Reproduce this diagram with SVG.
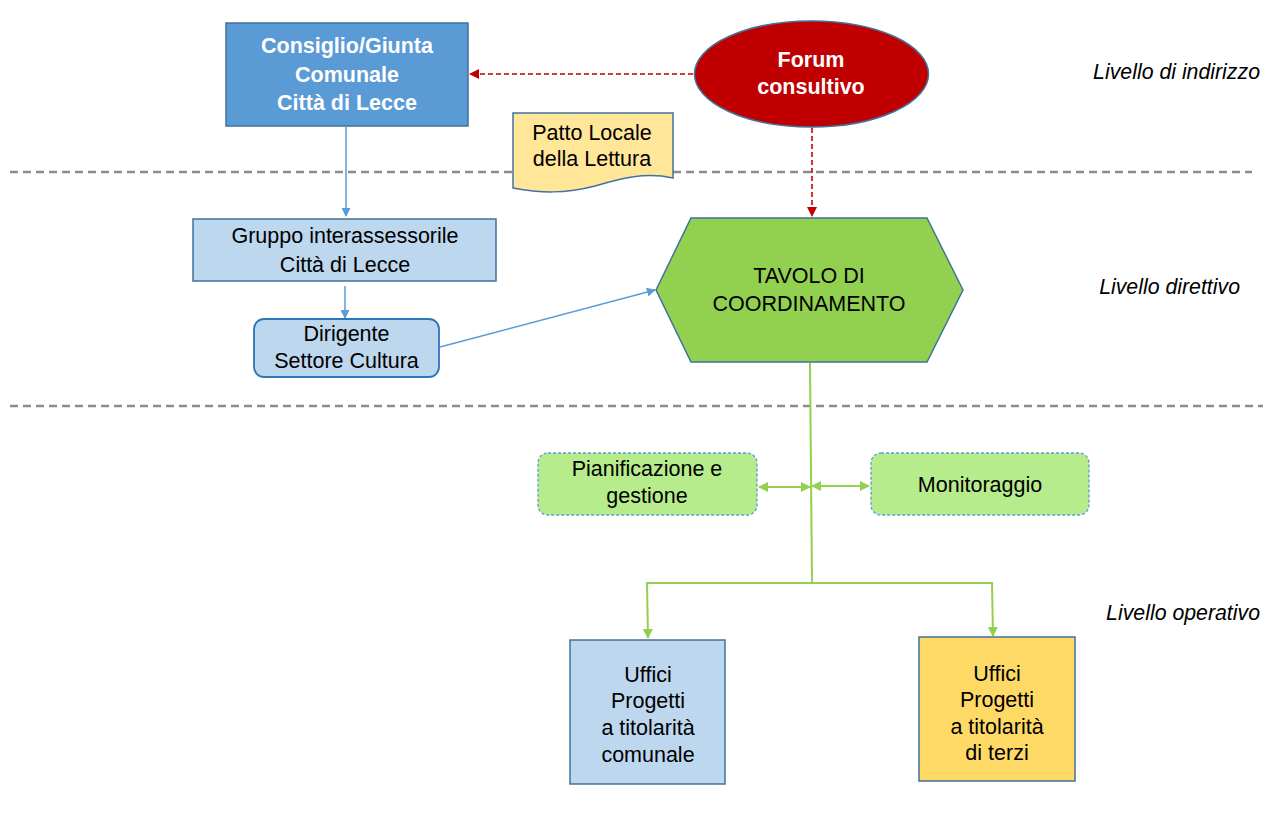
<svg xmlns="http://www.w3.org/2000/svg" width="1263" height="813" viewBox="0 0 1263 813">
<defs>
<style>
.t{font-family:"Liberation Sans",Arial,sans-serif;font-size:21.5px;fill:#000;text-anchor:middle}
.b{font-weight:bold;fill:#fff}
.lvl{font-family:"Liberation Sans",Arial,sans-serif;font-size:21.3px;font-style:italic;fill:#000;text-anchor:end}
.sep{stroke:#8c8c8c;stroke-width:2.5;stroke-dasharray:8 5;fill:none}
.red{stroke:#c00000;stroke-width:1.6;stroke-dasharray:5 3;fill:none}
.blue{stroke:#5b9bd5;stroke-width:1.5;fill:none}
.green{stroke:#92d050;stroke-width:2;fill:none}
</style>
<marker id="ar" viewBox="0 0 10 10" refX="9" refY="5" markerWidth="10" markerHeight="10" markerUnits="userSpaceOnUse" orient="auto"><path d="M0,0L10,5L0,10z" fill="#c00000"/></marker>
<marker id="ab" viewBox="0 0 10 10" refX="9" refY="5" markerWidth="9" markerHeight="9" markerUnits="userSpaceOnUse" orient="auto"><path d="M0,0L10,5L0,10z" fill="#5b9bd5"/></marker>
<marker id="ag" viewBox="0 0 10 10" refX="9" refY="5" markerWidth="10" markerHeight="10" markerUnits="userSpaceOnUse" orient="auto-start-reverse"><path d="M0,0L10,5L0,10z" fill="#92d050"/></marker>
</defs>
<rect width="1263" height="813" fill="#fff"/>
<line class="sep" x1="10" y1="172" x2="1252" y2="172"/>
<line class="sep" x1="10" y1="406" x2="1263" y2="406"/>
<g id="connectors">
<line class="red" x1="693" y1="74" x2="470" y2="74" marker-end="url(#ar)"/>
<line class="red" x1="812" y1="128" x2="812" y2="216" marker-end="url(#ar)"/>
<line class="blue" x1="346" y1="127" x2="346" y2="216" marker-end="url(#ab)"/>
<line class="blue" x1="345" y1="286" x2="345" y2="318" marker-end="url(#ab)"/>
<line class="blue" x1="440" y1="347" x2="655" y2="290" stroke-width="1" marker-end="url(#ab)"/>
<polyline class="green" points="810,363 812,583"/>
<polyline class="green" points="812,583 647,583 648,638" marker-end="url(#ag)"/>
<polyline class="green" points="812,583 992,583 993,636" marker-end="url(#ag)"/>
<line class="green" x1="759" y1="487" x2="810" y2="487" marker-start="url(#ag)" marker-end="url(#ag)"/>
<line class="green" x1="812" y1="486" x2="869" y2="486" marker-start="url(#ag)" marker-end="url(#ag)"/>
</g>
<g id="consiglio">
<rect x="226" y="23" width="242" height="103" fill="#5b9bd5" stroke="#41719c" stroke-width="1.5"/>
<text class="t b" x="347" y="53">Consiglio/Giunta</text>
<text class="t b" x="347" y="82">Comunale</text>
<text class="t b" x="347" y="110">Città di Lecce</text>
</g>
<g id="forum">
<ellipse cx="811.5" cy="74" rx="117" ry="53" fill="#c00000" stroke="#41719c" stroke-width="1.5"/>
<text class="t b" x="811" y="67">Forum</text>
<text class="t b" x="811" y="94">consultivo</text>
</g>
<g id="patto">
<path d="M513,113H673V178C645,172 622,178 595,186C565,194 540,193 513,188Z" fill="#ffe699" stroke="#41719c" stroke-width="1.5"/>
<text class="t" x="592" y="140">Patto Locale</text>
<text class="t" x="592" y="166">della Lettura</text>
</g>
<g id="gruppo">
<rect x="193" y="219" width="303" height="62" fill="#bdd7ee" stroke="#41719c" stroke-width="1.5"/>
<text class="t" x="345" y="243">Gruppo interassessorile</text>
<text class="t" x="345" y="272">Città di Lecce</text>
</g>
<g id="dirigente">
<rect x="254" y="319" width="185" height="58" rx="10" fill="#bdd7ee" stroke="#2e75b6" stroke-width="1.8"/>
<text class="t" x="346.5" y="341">Dirigente</text>
<text class="t" x="346.5" y="368">Settore Cultura</text>
</g>
<g id="tavolo">
<polygon points="656,290 691,218 927,218 963,290 927,362 691,362" fill="#92d050" stroke="#41719c" stroke-width="1.5"/>
<text class="t" x="809" y="283">TAVOLO DI</text>
<text class="t" x="809" y="311">COORDINAMENTO</text>
</g>
<g id="pianificazione">
<rect x="538" y="453" width="219" height="62" rx="10" fill="#b6ec8c" stroke="#5b9bd5" stroke-width="1.3" stroke-dasharray="3 2"/>
<text class="t" x="647" y="476">Pianificazione e</text>
<text class="t" x="647" y="503">gestione</text>
</g>
<g id="monitoraggio">
<rect x="871" y="453" width="218" height="62" rx="10" fill="#b6ec8c" stroke="#5b9bd5" stroke-width="1.3" stroke-dasharray="3 2"/>
<text class="t" x="980" y="492">Monitoraggio</text>
</g>
<g id="uffici-comunali">
<rect x="570" y="640" width="155" height="144" fill="#bdd7ee" stroke="#41719c" stroke-width="1.5"/>
<text class="t" x="648" y="682">Uffici</text>
<text class="t" x="648" y="708">Progetti</text>
<text class="t" x="648" y="735">a titolarità</text>
<text class="t" x="648" y="762">comunale</text>
</g>
<g id="uffici-terzi">
<rect x="919" y="637" width="156" height="144" fill="#ffd966" stroke="#41719c" stroke-width="1.5"/>
<text class="t" x="997" y="681">Uffici</text>
<text class="t" x="997" y="707">Progetti</text>
<text class="t" x="997" y="734">a titolarità</text>
<text class="t" x="997" y="760">di terzi</text>
</g>
<g id="livelli">
<text class="lvl" x="1260" y="79">Livello di indirizzo</text>
<text class="lvl" x="1240" y="294">Livello direttivo</text>
<text class="lvl" x="1260" y="620">Livello operativo</text>
</g>
</svg>
